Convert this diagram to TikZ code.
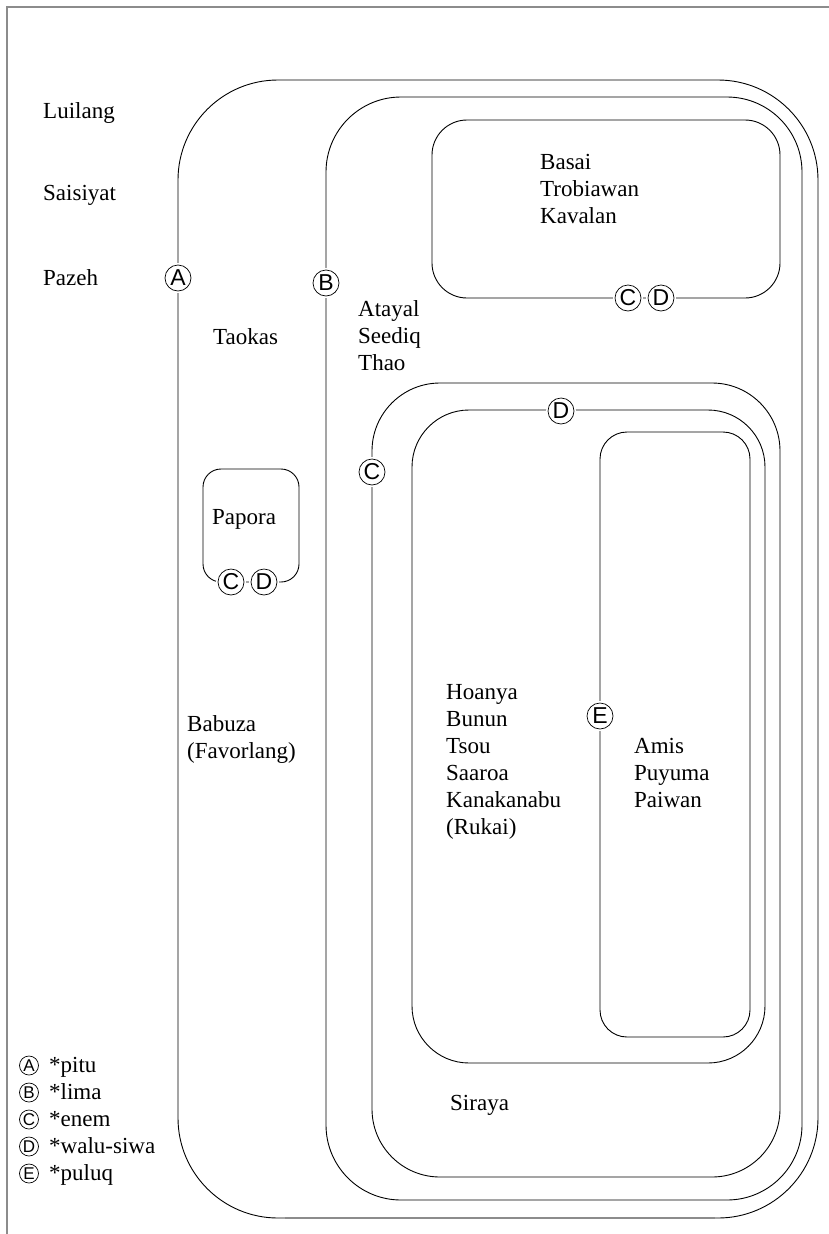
\documentclass[tikz,border=0pt]{standalone}
\usepackage{fontspec}
\setmainfont{Liberation Serif}
\newfontfamily\markfont{Liberation Sans}
\begin{document}
\begin{tikzpicture}[x=1pt,y=-1pt,
  box/.style={draw=black, line width=0.9pt},
  mkbase/.style={circle, draw=black, fill=white, line width=0.7pt, inner sep=0pt},
  mk/.style={mkbase, minimum size=26pt, font=\markfont\fontsize{23}{23}\selectfont, preaction={draw=white, line width=4pt}},
  lmk/.style={mkbase, minimum size=19pt, font=\markfont\fontsize{17}{17}\selectfont},
  lbl/.style={anchor=north west, inner sep=0pt, align=left, font=\fontsize{23}{27}\selectfont},
  frame/.style={draw=black!45, line width=1.3pt}
]
\useasboundingbox (0,0) rectangle (829,1234);
% frame
\draw[frame] (829,7) -- (7,7) -- (7,1234);
% boxes
\draw[box, rounded corners=100pt] (178,80) rectangle (818,1218);
\draw[frame] (285,1218) -- (715,1218);
\draw[box, rounded corners=75pt] (326,97) rectangle (802,1200);
\draw[box, rounded corners=35pt] (432,120) rectangle (780,298);
\draw[box, rounded corners=68pt] (372,383) rectangle (780,1177);
\draw[box, rounded corners=57pt] (412,410) rectangle (765,1063);
\draw[box, rounded corners=27pt] (600,432) rectangle (750,1037);
\draw[box, rounded corners=18pt] (203,469) rectangle (299,582);
% markers
\node[mk] (mA) at (178,278) {A};
\node[mk] (mB) at (326,283) {B};
\node[mk] (mC1) at (628,298) {C};
\node[mk] (mD1) at (661,298) {D};
\node[mk] (mC2) at (372,472) {C};
\node[mk] (mD2) at (561,411) {D};
\node[mk] (mE) at (600,716) {E};
\node[mk] (mC3) at (231,582) {C};
\node[mk] (mD3) at (264,582) {D};
% labels
\node[lbl] (luilang) at (43,102.5) {Luilang};
\node[lbl] (saisiyat) at (43,185.5) {Saisiyat};
\node[lbl] (pazeh) at (43,269.5) {Pazeh};
\node[lbl] (taokas) at (213,328.5) {Taokas};
\node[lbl] (basai) at (540,154.5) {Basai\\Trobiawan\\Kavalan};
\node[lbl] (atayal) at (358,300) {Atayal\\Seediq\\Thao};
\node[lbl] (papora) at (212,509.5) {Papora};
\node[lbl] (babuza) at (187,715.5) {Babuza\\(Favorlang)};
\node[lbl] (hoanya) at (446,684.5) {Hoanya\\Bunun\\Tsou\\Saaroa\\Kanakanabu\\(Rukai)};
\node[lbl] (amis) at (634,738.5) {Amis\\Puyuma\\Paiwan};
\node[lbl] (siraya) at (450,1095) {Siraya};
% legend
\node[lbl] (legend) at (49,1057.5) {*pitu\\*lima\\*enem\\*walu-siwa\\*puluq};
\node[lmk] (lA) at (29,1065.5) {A};
\node[lmk] (lB) at (29,1092.5) {B};
\node[lmk] (lC) at (29,1119.5) {C};
\node[lmk] (lD) at (29,1146.5) {D};
\node[lmk] (lE) at (29,1173.5) {E};
\end{tikzpicture}
\end{document}
